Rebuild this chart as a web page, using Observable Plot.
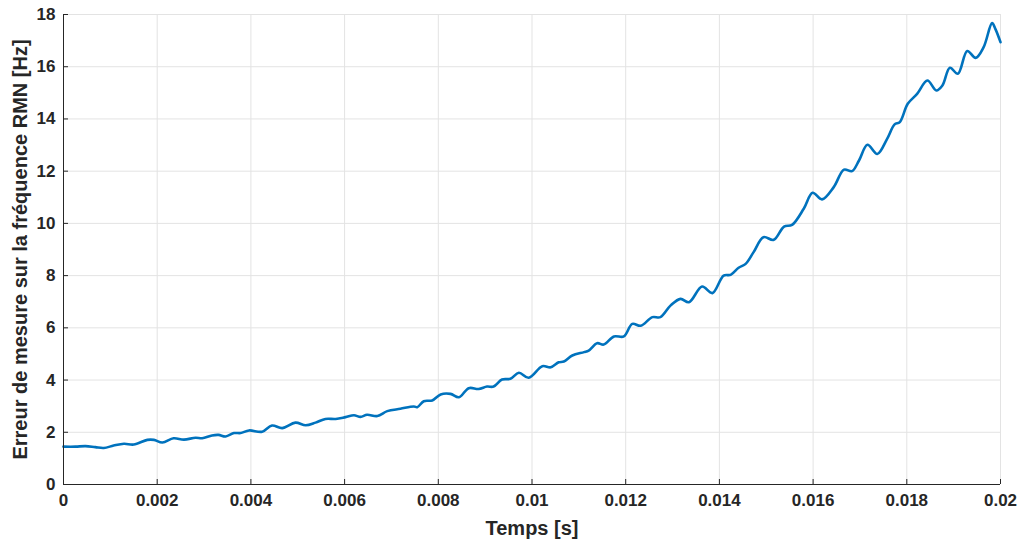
<!DOCTYPE html>
<html>
<head>
<meta charset="utf-8">
<script src="https://cdn.jsdelivr.net/npm/d3@7"></script>
<script src="https://cdn.jsdelivr.net/npm/@observablehq/plot@0.6"></script>
<style>
  html, body { margin: 0; padding: 0; background: #fff; }
  #chart svg { display: block; }
</style>
</head>
<body>
<div id="chart"></div>
<script>
const timeS = [0,0.000256,0.00047,0.00068,0.00086,0.00107,0.00129,0.0015,0.00179,0.00193,0.00211,0.00235,0.00257,0.00282,0.00296,0.00317,0.00331,0.00346,0.00364,0.00378,0.00396,0.00424,0.00445,0.00467,0.00495,0.00517,0.00538,0.00559,0.00581,0.00602,0.0062,0.00634,0.00648,0.0067,0.00691,0.00719,0.00748,0.00755,0.00769,0.00787,0.00805,0.00826,0.00844,0.00865,0.00886,0.00904,0.00918,0.00936,0.00954,0.00972,0.00993,0.01022,0.0104,0.01057,0.01068,0.01086,0.01111,0.01121,0.01139,0.01153,0.01175,0.01196,0.01214,0.01232,0.01257,0.01274,0.01296,0.01317,0.01335,0.01363,0.01385,0.01409,0.01424,0.01441,0.01456,0.01473,0.01494,0.01516,0.01538,0.01555,0.0158,0.01599,0.01619,0.01644,0.01666,0.01683,0.01698,0.01716,0.01737,0.01758,0.01774,0.01785,0.01802,0.01822,0.01844,0.01863,0.01876,0.01892,0.01909,0.01929,0.01947,0.01964,0.01982,0.01989,0.02];
const erreurHz = [1.45,1.45,1.47,1.43,1.40,1.49,1.56,1.53,1.71,1.71,1.61,1.77,1.72,1.79,1.77,1.88,1.90,1.84,1.97,1.97,2.07,2.02,2.26,2.16,2.37,2.27,2.37,2.51,2.51,2.58,2.65,2.59,2.67,2.62,2.81,2.90,2.99,2.96,3.19,3.22,3.45,3.47,3.34,3.69,3.66,3.75,3.75,4.02,4.05,4.28,4.09,4.53,4.49,4.68,4.71,4.94,5.07,5.13,5.41,5.36,5.67,5.67,6.15,6.08,6.41,6.41,6.86,7.11,6.98,7.58,7.33,8.00,8.03,8.30,8.45,8.90,9.47,9.37,9.88,9.94,10.56,11.17,10.92,11.39,12.06,12.00,12.41,13.01,12.66,13.24,13.79,13.88,14.58,14.96,15.47,15.09,15.28,15.96,15.73,16.60,16.34,16.75,17.67,17.45,16.94];
const xTicks = [0,0.002,0.004,0.006,0.008,0.01,0.012,0.014,0.016,0.018,0.02];
const xTickLabels = ["0","0.002","0.004","0.006","0.008","0.01","0.012","0.014","0.016","0.018","0.02"];
const yTicks = [0,2,4,6,8,10,12,14,16,18];
const xLabel = "Temps [s]";
const yLabel = "Erreur de mesure sur la fréquence RMN [Hz]";

const data = timeS.map((t, i) => ({t, v: erreurHz[i]}));
const W = 1022, H = 541;
const mL = 63, mR = 22, mT = 14, mB = 57;
const tickLenY = 5 * 18 / (H - mT - mB);
const tickLenX = 5 * 0.02 / (W - mL - mR);
const axisColor = "#262626";
const gridColor = "#e3e3e3";

const chart = Plot.plot({
  width: W, height: H,
  marginLeft: mL, marginRight: mR, marginTop: mT, marginBottom: mB,
  style: {fontFamily: "'Liberation Sans', Arial, sans-serif", fontWeight: "bold", fontSize: "17px", color: axisColor, background: "#fff"},
  x: {domain: [0, 0.02]},
  y: {domain: [0, 18]},
  marks: [
    Plot.ruleX(xTicks, {x: d => d, y1: 0, y2: 18, stroke: gridColor, strokeWidth: 1}),
    Plot.ruleY(yTicks, {y: d => d, x1: 0, x2: 0.02, stroke: gridColor, strokeWidth: 1}),
    Plot.line(data, {x: "t", y: "v", stroke: "#0072BD", strokeWidth: 2.6, curve: "catmull-rom"}),
    Plot.ruleX(xTicks, {x: d => d, y1: 0, y2: tickLenY, stroke: axisColor, strokeWidth: 1}),
    Plot.ruleY(yTicks, {y: d => d, x1: 0, x2: tickLenX, stroke: axisColor, strokeWidth: 1}),
    Plot.ruleY([0], {stroke: axisColor, strokeWidth: 1}),
    Plot.ruleX([0], {stroke: axisColor, strokeWidth: 1}),
    Plot.axisX(xTicks, {tickSize: 0, tickPadding: 9, tickFormat: (d, i) => xTickLabels[i], fontSize: 17, fontWeight: "bold", fill: axisColor, label: null}),
    Plot.axisY(yTicks, {tickSize: 0, tickPadding: 8, fontSize: 17, fontWeight: "bold", fill: axisColor, label: null}),
    Plot.text([xLabel], {frameAnchor: "bottom", dy: 50, text: d => d, fontSize: 20, fontWeight: "bold", fill: axisColor}),
    Plot.text([yLabel], {frameAnchor: "left", dx: -43, rotate: -90, textAnchor: "middle", text: d => d, fontSize: 20, fontWeight: "bold", fill: axisColor})
  ]
});
document.getElementById("chart").appendChild(chart);
</script>
</body>
</html>
